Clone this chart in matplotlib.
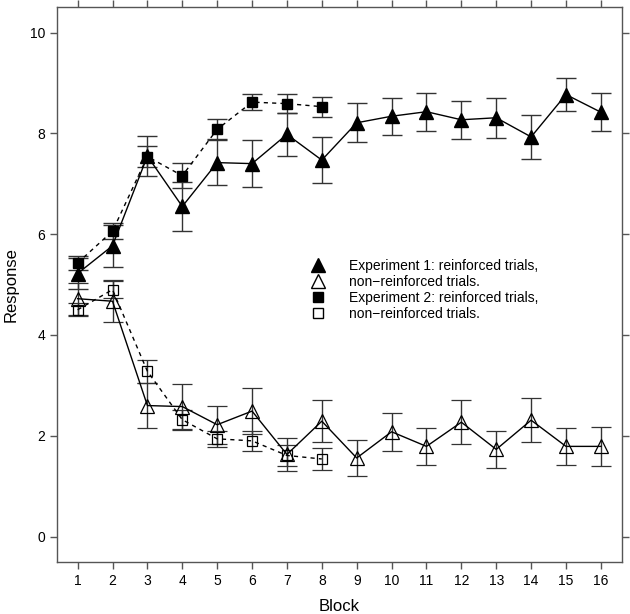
import numpy as np
import matplotlib
matplotlib.use("Agg")
import matplotlib.pyplot as plt
from matplotlib.lines import Line2D

plt.rcParams['font.family'] = ['Liberation Sans', 'DejaVu Sans']

# datos
bloques1 = np.arange(1, 17)
bloques2 = np.arange(1, 9)

e1_ref = [5.22, 5.77, 7.55, 6.55, 7.42, 7.40, 7.98, 7.47, 8.21, 8.34, 8.43, 8.27, 8.31, 7.93, 8.77, 8.42]
e1_ref_err = [0.30, 0.42, 0.40, 0.48, 0.45, 0.47, 0.42, 0.46, 0.39, 0.37, 0.38, 0.38, 0.40, 0.43, 0.33, 0.38]
e1_non = [4.72, 4.67, 2.60, 2.58, 2.22, 2.49, 1.63, 2.29, 1.56, 2.08, 1.79, 2.27, 1.73, 2.31, 1.79, 1.79]
e1_non_err = [0.32, 0.42, 0.44, 0.45, 0.38, 0.45, 0.32, 0.42, 0.36, 0.38, 0.37, 0.44, 0.36, 0.44, 0.37, 0.39]

e2_ref = [5.43, 6.06, 7.54, 7.16, 8.08, 8.62, 8.59, 8.53]
e2_ref_err = [0.14, 0.16, 0.20, 0.25, 0.20, 0.16, 0.19, 0.20]
e2_non = [4.50, 4.90, 3.28, 2.32, 1.94, 1.90, 1.61, 1.54]
e2_non_err = [0.13, 0.17, 0.23, 0.20, 0.16, 0.20, 0.20, 0.21]

etiquetas = ['Experiment 1: reinforced trials,', 'non\u2212reinforced trials.',
             'Experiment 2: reinforced trials,', 'non\u2212reinforced trials.']

fig = plt.figure(figsize=(6.3, 6.14), dpi=100)
ax = fig.add_axes([0.090, 0.085, 0.897, 0.903])

gris = '#333333'
# experimento 1 (linea continua)
ax.errorbar(bloques1, e1_ref, yerr=e1_ref_err, color='black', ls='-', lw=1,
            marker='^', ms=10, mfc='black', mec='black',
            ecolor=gris, elinewidth=1, capsize=7, capthick=1)
ax.errorbar(bloques1, e1_non, yerr=e1_non_err, color='black', ls='-', lw=1,
            marker='^', ms=10, mfc='none', mec='black', mew=0.9,
            ecolor=gris, elinewidth=1, capsize=7, capthick=1)
# experimento 2 (linea discontinua)
ax.errorbar(bloques2, e2_ref, yerr=e2_ref_err, color='black', ls=(0, (3, 3)), lw=1,
            marker='s', ms=7.5, mfc='black', mec='black',
            ecolor=gris, elinewidth=1, capsize=7, capthick=1)
ax.errorbar(bloques2, e2_non, yerr=e2_non_err, color='black', ls=(0, (3, 3)), lw=1,
            marker='s', ms=7.5, mfc='none', mec='black', mew=0.9,
            ecolor=gris, elinewidth=1, capsize=7, capthick=1)

ax.set_xlim(0.4, 16.6)
ax.set_ylim(-0.5, 10.5)
ax.set_xticks(bloques1)
ax.set_yticks([0, 2, 4, 6, 8, 10])
ax.tick_params(direction='out', length=5, width=1, color='#555555', labelsize=10,
               top=True, right=True, labeltop=False, labelright=False)
for s in ax.spines.values():
    s.set_color('#555555')
    s.set_linewidth(1)

ax.set_xlabel('Block', fontsize=12, labelpad=8)
ax.set_ylabel('Response', fontsize=12, labelpad=8)

# leyenda solo con simbolos
manijas = [Line2D([], [], ls='none', marker='^', ms=10, mfc='black', mec='black'),
           Line2D([], [], ls='none', marker='^', ms=10, mfc='none', mec='black'),
           Line2D([], [], ls='none', marker='s', ms=7.5, mfc='black', mec='black'),
           Line2D([], [], ls='none', marker='s', ms=7.5, mfc='none', mec='black')]
ax.legend(manijas, etiquetas, loc='upper left', bbox_to_anchor=(0.441, 0.557),
          frameon=False, fontsize=10, handlelength=1.0, handletextpad=1.7,
          labelspacing=0.15, borderaxespad=0)

fig.savefig('out.png', dpi=100)
